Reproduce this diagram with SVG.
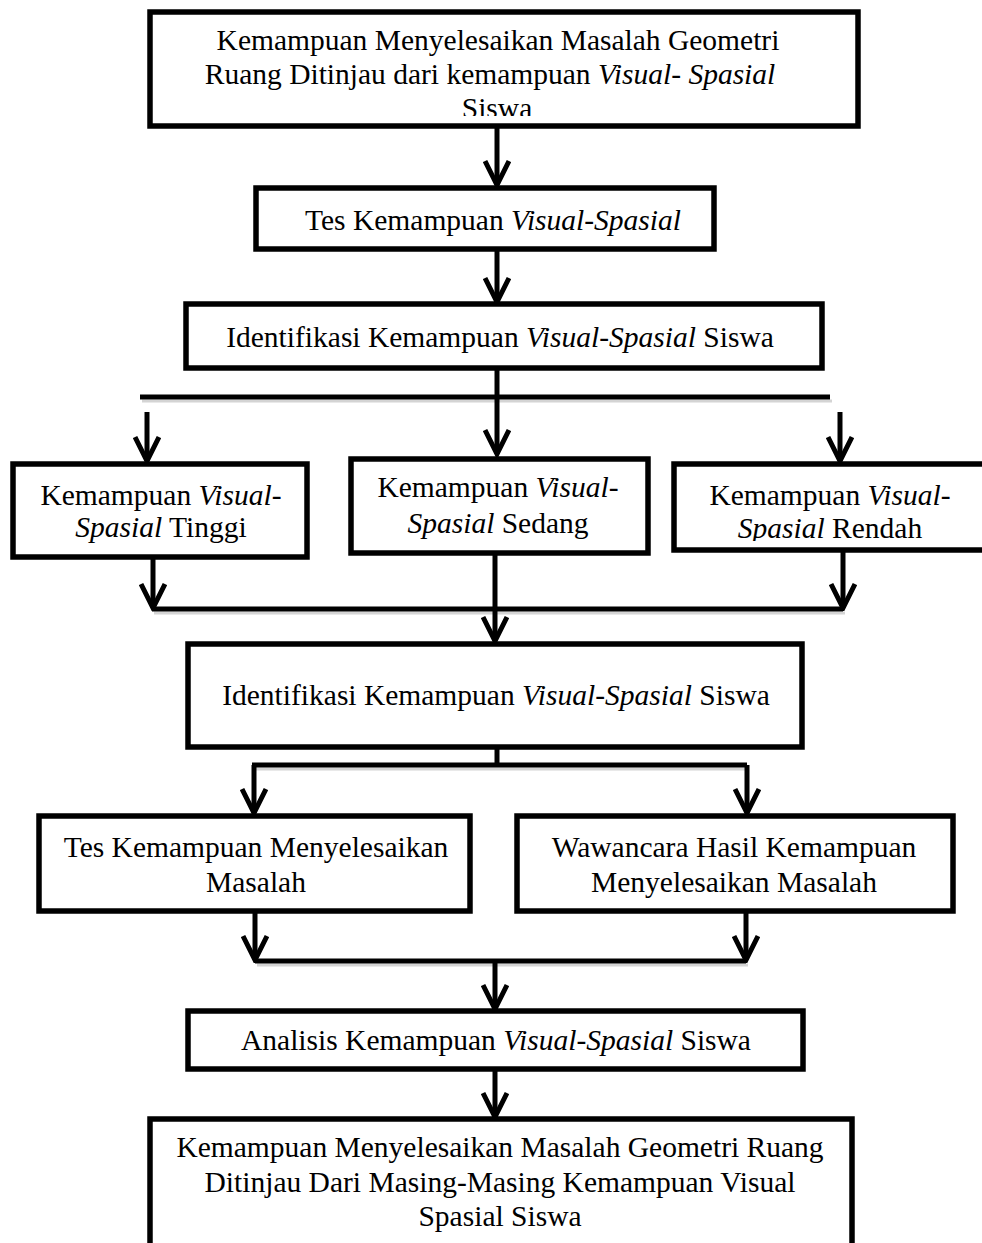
<svg xmlns="http://www.w3.org/2000/svg" width="982" height="1243" viewBox="0 0 982 1243">
<style>
.box{fill:#fff;stroke:#000;stroke-width:5.5}
.t{font-family:"Liberation Serif","Times New Roman",serif;font-size:29.5px;fill:#000;text-anchor:middle}
.i{font-style:italic}
.ln{fill:none;stroke:#000;stroke-width:5}
.ar{fill:none;stroke:#000;stroke-width:5;marker-end:url(#ah)}
.sh{fill:none;stroke:#aaa;stroke-width:3;opacity:0.5}
</style>
<defs>
<marker id="ah" markerUnits="userSpaceOnUse" viewBox="0 0 30 28" refX="27" refY="14" markerWidth="30" markerHeight="28" orient="auto">
<path d="M3,2 L27,14 L3,26" fill="none" stroke="#000" stroke-width="5"/>
</marker>
<clipPath id="c1"><rect x="152" y="14" width="704" height="102"/></clipPath>
<clipPath id="c2"><rect x="677" y="467" width="305" height="74"/></clipPath>
</defs>
<rect width="982" height="1243" fill="#fff"/>
<g id="connectors">
<line class="ar" x1="497" y1="126" x2="497" y2="185"/>
<line class="ar" x1="497" y1="249" x2="497" y2="302"/>
<line class="ln" x1="497" y1="368" x2="497" y2="397"/>
<line class="sh" x1="142" y1="401" x2="832" y2="401"/>
<line class="ln" x1="140" y1="397" x2="830" y2="397"/>
<line class="ar" x1="497" y1="397" x2="497" y2="454"/>
<line class="ar" x1="147" y1="412" x2="147" y2="461"/>
<line class="ar" x1="840" y1="412" x2="840" y2="461"/>
<line class="ar" x1="153" y1="557" x2="153" y2="608"/>
<line class="ar" x1="843" y1="550" x2="843" y2="608"/>
<line class="sh" x1="154" y1="613" x2="845" y2="613"/>
<line class="ln" x1="152" y1="609" x2="843" y2="609"/>
<line class="ar" x1="495" y1="553" x2="495" y2="641"/>
<line class="ln" x1="497" y1="747" x2="497" y2="765"/>
<line class="sh" x1="254" y1="769" x2="749" y2="769"/>
<line class="ln" x1="252" y1="765" x2="747" y2="765"/>
<line class="ar" x1="254" y1="765" x2="254" y2="813"/>
<line class="ar" x1="747" y1="765" x2="747" y2="813"/>
<line class="ar" x1="255" y1="911" x2="255" y2="960"/>
<line class="ar" x1="746" y1="911" x2="746" y2="960"/>
<line class="sh" x1="257" y1="965" x2="748" y2="965"/>
<line class="ln" x1="255" y1="961" x2="746" y2="961"/>
<line class="ar" x1="495" y1="961" x2="495" y2="1009"/>
<line class="ar" x1="495" y1="1069" x2="495" y2="1117"/>
</g>
<g id="n1">
<rect class="box" x="150" y="12" width="708" height="114"/>
<g clip-path="url(#c1)">
<text class="t" x="498" y="50">Kemampuan Menyelesaikan Masalah Geometri</text>
<text class="t" x="490" y="84">Ruang Ditinjau dari kemampuan <tspan class="i">Visual- Spasial</tspan></text>
<text class="t" x="497" y="118">Siswa</text>
</g>
</g>
<g id="n2">
<rect class="box" x="256" y="188" width="458" height="61"/>
<text class="t" x="493" y="230">Tes Kemampuan <tspan class="i">Visual-Spasial</tspan></text>
</g>
<g id="n3">
<rect class="box" x="186" y="304" width="636" height="64"/>
<text class="t" x="500" y="347">Identifikasi Kemampuan <tspan class="i">Visual-Spasial</tspan> Siswa</text>
</g>
<g id="n4">
<rect class="box" x="13" y="464" width="294" height="93"/>
<text class="t" x="161" y="505">Kemampuan <tspan class="i">Visual-</tspan></text>
<text class="t" x="161" y="537"><tspan class="i">Spasial</tspan> Tinggi</text>
</g>
<g id="n5">
<rect class="box" x="351" y="459" width="297" height="94"/>
<text class="t" x="498" y="497">Kemampuan <tspan class="i">Visual-</tspan></text>
<text class="t" x="498" y="533"><tspan class="i">Spasial</tspan> Sedang</text>
</g>
<g id="n6">
<rect class="box" x="674" y="464" width="320" height="86"/>
<g clip-path="url(#c2)">
<text class="t" x="830" y="505">Kemampuan <tspan class="i">Visual-</tspan></text>
<text class="t" x="830" y="538"><tspan class="i">Spasial</tspan> Rendah</text>
</g>
</g>
<g id="n7">
<rect class="box" x="188" y="644" width="614" height="103"/>
<text class="t" x="496" y="705">Identifikasi Kemampuan <tspan class="i">Visual-Spasial</tspan> Siswa</text>
</g>
<g id="n8">
<rect class="box" x="39" y="816" width="431" height="95"/>
<text class="t" x="256" y="857">Tes Kemampuan Menyelesaikan</text>
<text class="t" x="256" y="892">Masalah</text>
</g>
<g id="n9">
<rect class="box" x="517" y="816" width="436" height="95"/>
<text class="t" x="734" y="857">Wawancara Hasil Kemampuan</text>
<text class="t" x="734" y="892">Menyelesaikan Masalah</text>
</g>
<g id="n10">
<rect class="box" x="188" y="1011" width="615" height="58"/>
<text class="t" x="496" y="1050">Analisis Kemampuan <tspan class="i">Visual-Spasial</tspan> Siswa</text>
</g>
<g id="n11">
<rect class="box" x="150" y="1119" width="702" height="140"/>
<text class="t" x="500" y="1157">Kemampuan Menyelesaikan Masalah Geometri Ruang</text>
<text class="t" x="500" y="1192">Ditinjau Dari Masing-Masing Kemampuan Visual</text>
<text class="t" x="500" y="1226">Spasial Siswa</text>
</g>
</svg>
